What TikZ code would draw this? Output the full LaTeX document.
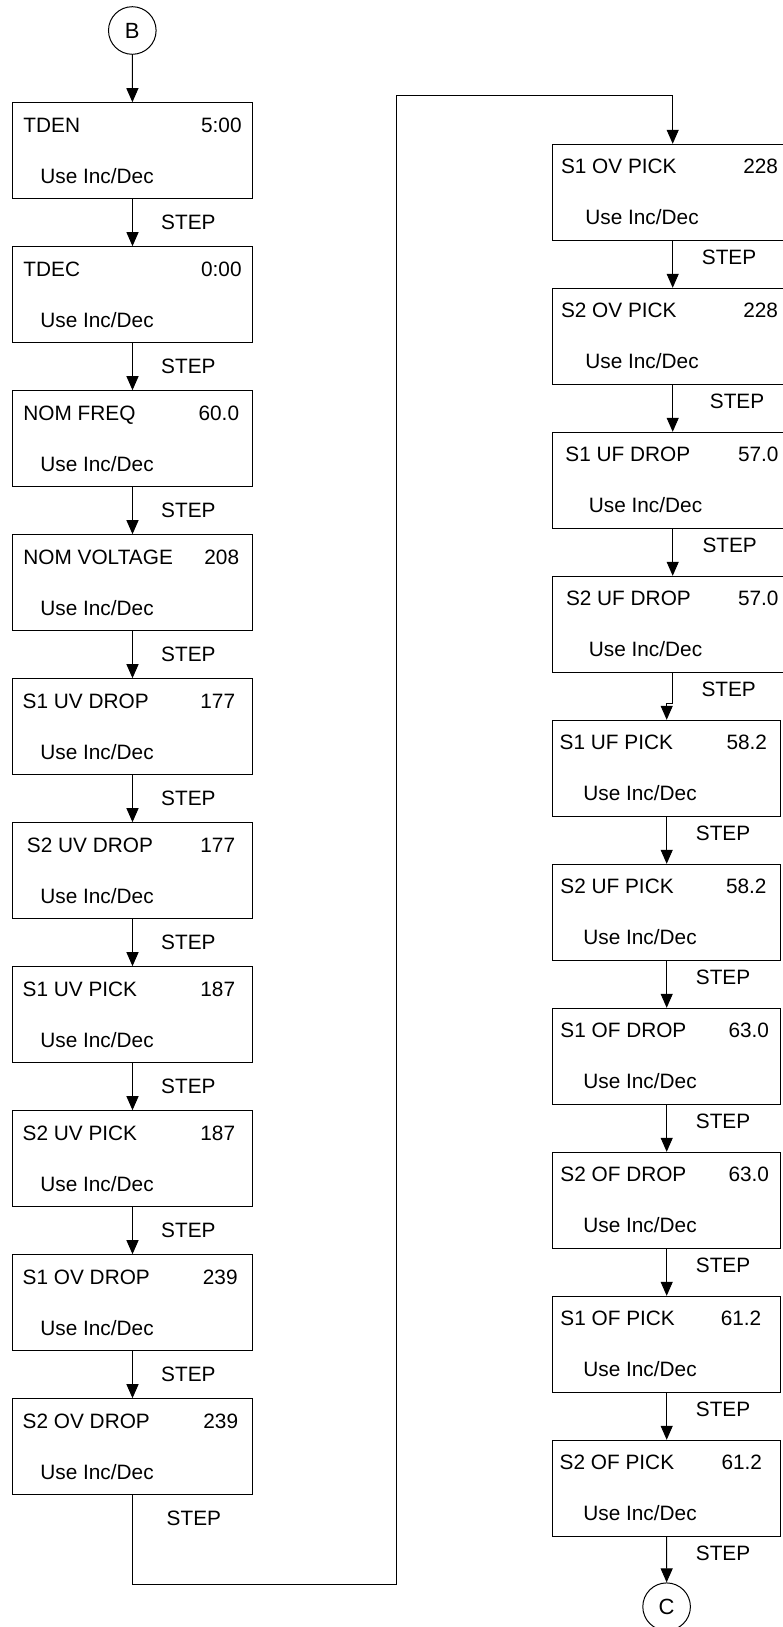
\documentclass[tikz,border=0pt]{standalone}
\usepackage{fontspec}
\setmainfont{Liberation Sans}
\usetikzlibrary{arrows.meta}

\tikzset{
  regframe/.style={draw, rectangle, line width=1pt, minimum height=96pt, inner sep=0pt},
  regtext/.style={inner sep=0pt, font=\fontsize{20.8}{25}\selectfont},
  flow/.style={line width=1pt, -{Triangle[width=12pt,length=14pt]}},
  conn/.style={draw, circle, line width=1pt, minimum size=47.6pt, inner sep=0pt, font=\fontsize{22}{26}\selectfont}
}

% register box: name, x, y, width, title, title dx, value, value dx, use dx
\newcommand{\regbox}[9]{%
  \node[regframe, minimum width=#4pt] (#1) at (#2,#3) {};
  \node[regtext, anchor=base west] (#1-t) at ([xshift=#6pt, yshift=-30pt]#1.north west) {#5};
  \node[regtext, anchor=base east] (#1-v) at ([xshift=-#8pt, yshift=-30pt]#1.north east) {#7};
  \node[regtext, anchor=base west] (#1-u) at ([xshift=#9pt, yshift=-81pt]#1.north west) {Use Inc/Dec};
}

\begin{document}
\begin{tikzpicture}[x=1pt, y=1pt]
  \useasboundingbox (0,0) rectangle (783,-1627);

  % left column
  \node[conn] (conB) at (132.3,-30.5) {B};
  \regbox{tden}{132.5}{-150.7}{239.6}{TDEN}{11}{5:00}{11}{28}
  \regbox{tdec}{132.5}{-294.7}{239.6}{TDEC}{11}{0:00}{11}{28}
  \regbox{nomfreq}{132.5}{-438.7}{239.6}{NOM FREQ}{11}{60.0}{13.5}{28}
  \regbox{nomvolt}{132.5}{-582.7}{239.6}{NOM VOLTAGE}{11}{208}{13.5}{28}
  \regbox{uvd1}{132.5}{-726.7}{239.6}{S1 UV DROP}{10.3}{177}{17.5}{28}
  \regbox{uvd2}{132.5}{-870.7}{239.6}{S2 UV DROP}{14.6}{177}{17.5}{28}
  \regbox{uvp1}{132.5}{-1014.7}{239.6}{S1 UV PICK}{10.3}{187}{17.5}{28}
  \regbox{uvp2}{132.5}{-1158.7}{239.6}{S2 UV PICK}{10.3}{187}{17.5}{28}
  \regbox{ovd1}{132.5}{-1302.7}{239.6}{S1 OV DROP}{10.3}{239}{15}{28}
  \regbox{ovd2}{132.5}{-1446.7}{239.6}{S2 OV DROP}{10.3}{239}{14.5}{28}

  % right column
  \regbox{ovp1}{672.7}{-192.3}{240}{S1 OV PICK}{8.6}{228}{15}{33}
  \regbox{ovp2}{672.7}{-336.3}{240}{S2 OV PICK}{8.6}{228}{15}{33}
  \regbox{ufd1}{672.7}{-480.3}{240}{S1 UF DROP}{13}{57.0}{14.5}{36.5}
  \regbox{ufd2}{672.7}{-624.3}{240}{S2 UF DROP}{13.6}{57.0}{14.5}{36.5}
  \regbox{ufp1}{666.7}{-768.3}{228}{S1 UF PICK}{7.3}{58.2}{14}{31}
  \regbox{ufp2}{666.7}{-912.3}{228}{S2 UF PICK}{8}{58.2}{14.5}{31}
  \regbox{ofd1}{666.7}{-1056.3}{228}{S1 OF DROP}{8}{63.0}{12}{31}
  \regbox{ofd2}{666.7}{-1200.3}{228}{S2 OF DROP}{8}{63.0}{12}{31}
  \regbox{ofp1}{666.7}{-1344.3}{228}{S1 OF PICK}{8}{61.2}{19.7}{31}
  \regbox{ofp2}{666.7}{-1488.3}{228}{S2 OF PICK}{7.3}{61.2}{19}{31}
  \node[conn] (conC) at (666.6,-1606.7) {C};

  % connectors
  \draw[flow] (conB) -- (tden);
  \draw[flow] (tden.south) -- (tdec.north);
  \draw[flow] (tdec.south) -- (nomfreq.north);
  \draw[flow] (nomfreq.south) -- (nomvolt.north);
  \draw[flow] (nomvolt.south) -- (uvd1.north);
  \draw[flow] (uvd1.south) -- (uvd2.north);
  \draw[flow] (uvd2.south) -- (uvp1.north);
  \draw[flow] (uvp1.south) -- (uvp2.north);
  \draw[flow] (uvp2.south) -- (ovd1.north);
  \draw[flow] (ovd1.south) -- (ovd2.north);
  \coordinate (loopbot) at (396.3,-1584.3);
  \coordinate (looptop) at (396.3,-96);
  \draw[flow] (ovd2.south) |- (loopbot) -- (looptop) -| (ovp1.north);
  \draw[flow] (ovp1.south) -- (ovp2.north);
  \draw[flow] (ovp2.south) -- (ufd1.north);
  \draw[flow] (ufd1.south) -- (ufd2.north);
  \draw[flow] (ufd2.south) -- ++(0,-31) -| (ufp1.north);
  \draw[flow] (ufp1.south) -- (ufp2.north);
  \draw[flow] (ufp2.south) -- (ofd1.north);
  \draw[flow] (ofd1.south) -- (ofd2.north);
  \draw[flow] (ofd2.south) -- (ofp1.north);
  \draw[flow] (ofp1.south) -- (ofp2.north);
  \draw[flow] (ofp2.south) -- (conC);

  % STEP labels
  \node[regtext, anchor=base west] (stepA) at ([xshift=28.5pt, yshift=-30pt]tden.south) {STEP};
  \node[regtext, anchor=base west] (stepB) at ([xshift=28.5pt, yshift=-30pt]tdec.south) {STEP};
  \node[regtext, anchor=base west] (stepC) at ([xshift=28.5pt, yshift=-30pt]nomfreq.south) {STEP};
  \node[regtext, anchor=base west] (stepD) at ([xshift=28.5pt, yshift=-30pt]nomvolt.south) {STEP};
  \node[regtext, anchor=base west] (stepE) at ([xshift=28.5pt, yshift=-30pt]uvd1.south) {STEP};
  \node[regtext, anchor=base west] (stepF) at ([xshift=28.5pt, yshift=-30pt]uvd2.south) {STEP};
  \node[regtext, anchor=base west] (stepG) at ([xshift=28.5pt, yshift=-30pt]uvp1.south) {STEP};
  \node[regtext, anchor=base west] (stepH) at ([xshift=28.5pt, yshift=-30pt]uvp2.south) {STEP};
  \node[regtext, anchor=base west] (stepI) at ([xshift=28.5pt, yshift=-30pt]ovd1.south) {STEP};
  \node[regtext, anchor=base west] (stepJ) at ([xshift=34pt, yshift=-30.5pt]ovd2.south) {STEP};
  \node[regtext, anchor=base west] (stepK) at ([xshift=29pt, yshift=-24pt]ovp1.south) {STEP};
  \node[regtext, anchor=base west] (stepL) at ([xshift=37pt, yshift=-24pt]ovp2.south) {STEP};
  \node[regtext, anchor=base west] (stepM) at ([xshift=29.6pt, yshift=-24pt]ufd1.south) {STEP};
  \node[regtext, anchor=base west] (stepN) at ([xshift=28.6pt, yshift=-24pt]ufd2.south) {STEP};
  \node[regtext, anchor=base west] (stepO) at ([xshift=29pt, yshift=-24pt]ufp1.south) {STEP};
  \node[regtext, anchor=base west] (stepP) at ([xshift=29pt, yshift=-24pt]ufp2.south) {STEP};
  \node[regtext, anchor=base west] (stepQ) at ([xshift=29pt, yshift=-24pt]ofd1.south) {STEP};
  \node[regtext, anchor=base west] (stepR) at ([xshift=29pt, yshift=-24pt]ofd2.south) {STEP};
  \node[regtext, anchor=base west] (stepS) at ([xshift=29pt, yshift=-24pt]ofp1.south) {STEP};
  \node[regtext, anchor=base west] (stepT) at ([xshift=29pt, yshift=-24pt]ofp2.south) {STEP};
\end{tikzpicture}
\end{document}
